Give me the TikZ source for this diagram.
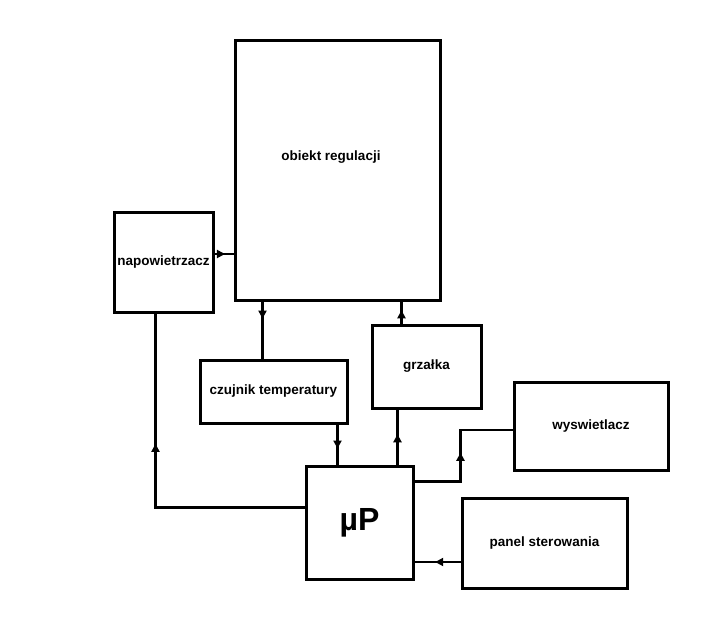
\documentclass[tikz,border=0pt]{standalone}
\usepackage{fontspec}
\setmainfont{Liberation Sans}
\usepackage{tikz}
\usetikzlibrary{arrows.meta, positioning, decorations.markings, calc}
\tikzset{
  blockbox/.style={draw, line width=3pt, inner sep=0pt, minimum width=#1,
      align=center, font=\fontsize{13.5}{16}\selectfont\bfseries},
  conn/.style={line width=2.4pt},
  midarrow/.style={postaction={decorate}, decoration={markings,
      mark=at position #1 with {\arrow{Triangle[length=8pt,width=8pt]}}}},
  lbl/.style={font=\fontsize{13.5}{16}\selectfont\bfseries},
}

\begin{document}
\begin{tikzpicture}[x=1pt, y=-1pt]
  \useasboundingbox (0,0) rectangle (709,643);
  % blocks
  \node[blockbox=205pt, minimum height=260pt] (obiekt) at (337.5,170) {};
  \node[lbl] (obiektlbl) at (331,157) {obiekt regulacji};
  \node[blockbox=99pt, minimum height=100pt] (napow) at (163.5,262) {napowietrzacz};
  \node[blockbox=147pt, minimum height=63pt] (czujnik) at (273.5,391.5) {czujnik temperatury};
  \node[blockbox=109pt, minimum height=83pt] (grzalka) at (426.5,366.5) {grzałka};
  \node[blockbox=154pt, minimum height=88pt] (wysw) at (591,426) {wyswietlacz};
  \node[blockbox=107pt, minimum height=113pt, font=\fontsize{32}{34}\selectfont\bfseries] (mikro) at (359.5,522.5) {µP};
  \node[blockbox=165pt, minimum height=90pt] (panel) at (544.5,543) {panel sterowania};
  % connections
  \draw[conn, midarrow=0.55] ([yshift=8pt]napow.east) -- ([yshift=8pt]napow.east -| obiekt.west);
  \draw[conn, midarrow=0.3] ([xshift=-11pt]czujnik.north |- obiekt.south) -- ([xshift=-11pt]czujnik.north);
  \draw[conn, midarrow=0.6] ([xshift=-11pt]czujnik.south east) -- ([xshift=-11pt]czujnik.south east |- mikro.north);
  \draw[conn, midarrow=0.55] ([xshift=-17pt]mikro.north east) -- ([xshift=-17pt]mikro.north east |- grzalka.south);
  \draw[conn, midarrow=0.6] ([xshift=-25pt]grzalka.north) -- ([xshift=-25pt]grzalka.north |- obiekt.south);
  \draw[conn, midarrow=0.5] ([yshift=-17pt]mikro.north east) -- ++(46,0) |- ([yshift=-4pt]wysw.west);
  \draw[conn, midarrow=0.55] ([yshift=-19pt]panel.west) -- ([yshift=-19pt]panel.west -| mikro.east);
  \draw[conn, midarrow=0.62] ([yshift=15pt]mikro.west) -| ([xshift=-8pt]napow.south);
\end{tikzpicture}
\end{document}
